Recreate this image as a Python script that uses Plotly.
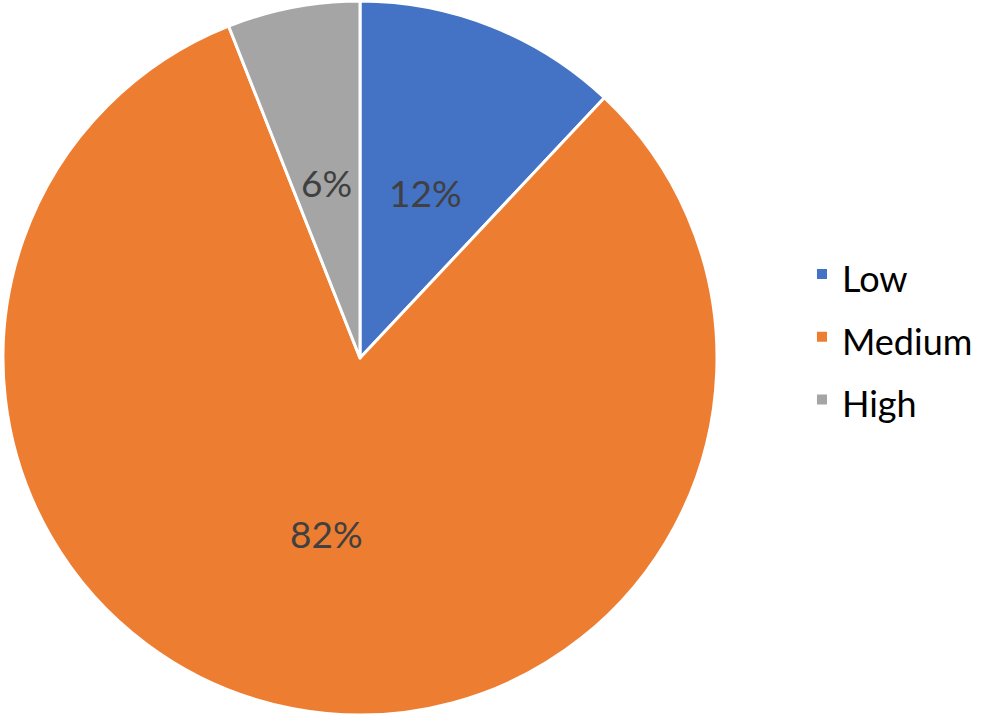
import math
import plotly.graph_objects as go

labels = ["Low", "Medium", "High"]
values = [12, 82, 6]
colors = ["#4472C4", "#ED7D31", "#A5A5A5"]

W, H = 995, 721
cx, cy, r = 360, 358, 357

legend_labels = [f'<span style="font-size:36px">{lab}</span>' for lab in labels]

fig = go.Figure(go.Pie(
    labels=legend_labels,
    values=values,
    sort=False,
    direction="clockwise",
    rotation=0,
    marker=dict(colors=colors, line=dict(color="white", width=3)),
    textinfo="none",
    domain=dict(x=[(cx - r) / W, (cx + r) / W],
                y=[(H - cy - r) / H, (H - cy + r) / H]),
    hoverinfo="percent",
))

# percentage labels placed at mid-angle of each slice, half the radius out
total = sum(values)
annotations = []
acc = 0
for v in values:
    mid = (acc + v / 2) / total * 2 * math.pi
    acc += v
    px = cx + 0.5 * r * math.sin(mid)
    py = cy - 0.5 * r * math.cos(mid)
    annotations.append(dict(
        x=px / W, y=1 - py / H, xref="paper", yref="paper",
        text=f"{round(v / total * 100)}%", showarrow=False,
        font=dict(family="Lato", size=37, color="#404040"),
        xanchor="center", yanchor="middle",
    ))

fig.update_layout(
    width=W, height=H,
    margin=dict(l=0, r=0, t=0, b=0),
    paper_bgcolor="white",
    plot_bgcolor="white",
    showlegend=True,
    annotations=annotations,
    legend=dict(
        x=0.806, y=1 - 337 / H, xanchor="left", yanchor="middle",
        font=dict(family="Lato", size=46, color="#000000"),
        bgcolor="rgba(0,0,0,0)",
        itemsizing="constant",
        tracegroupgap=0,
    ),
)

fig.write_html("out.html", config={"displayModeBar": False},
               post_script="document.body.style.margin='0';")
